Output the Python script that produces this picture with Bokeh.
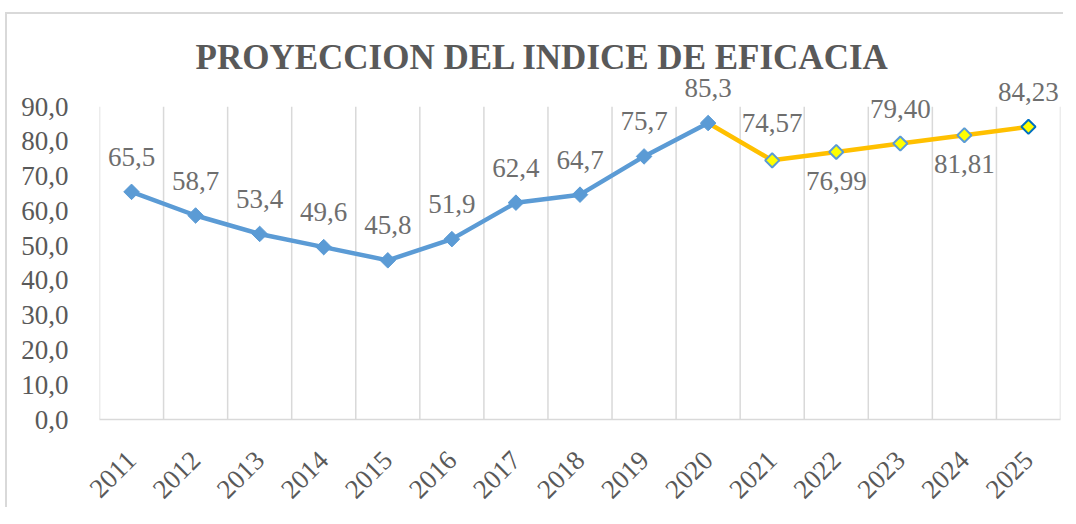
import numpy as np
from bokeh.plotting import figure
from bokeh.models import ColumnDataSource, FixedTicker, CustomJSTickFormatter, LabelSet
from bokeh.embed import file_html
from bokeh.resources import INLINE

# ---- data ----
hist_years = [2011, 2012, 2013, 2014, 2015, 2016, 2017, 2018, 2019, 2020]
hist_values = [65.5, 58.7, 53.4, 49.6, 45.8, 51.9, 62.4, 64.7, 75.7, 85.3]
proj_years = [2021, 2022, 2023, 2024, 2025]
proj_values = [74.57, 76.99, 79.40, 81.81, 84.23]
y_ticks = [0, 10, 20, 30, 40, 50, 60, 70, 80, 90]
title_text = "PROYECCION DEL INDICE DE EFICACIA"

all_years = hist_years + proj_years
FONT = "Liberation Serif"
GRID = "#D9D9D9"
AXIS_TXT = "#595959"
LBL_TXT = "#6E6E6E"
BLUE = "#5B9BD5"
ORANGE = "#FFC000"

# headroom above the top tick so data labels are not clipped
y_top = y_ticks[-1] + 11

p = figure(width=1058, height=495, output_backend="svg", toolbar_location=None,
           x_range=(all_years[0] - 0.5, all_years[-1] + 0.5), y_range=(y_ticks[0], y_top),
           min_border_left=92, min_border_right=5, min_border_top=54, min_border_bottom=88,
           background_fill_color="white", border_fill_color="white")
p.styles = {"border-left": "2px solid #D9D9D9", "border-top": "2px solid #D9D9D9",
            "margin-top": "12px", "margin-left": "5px"}
p.outline_line_color = None

p.title.text = title_text
p.title.align = "left"
p.title.offset = 96
p.title.text_font = FONT
p.title.text_font_size = "35px"
p.title.text_font_style = "bold"
p.title.text_color = AXIS_TXT
p.title.standoff = -16

# grids: vertical category boundaries spanning 0..top tick
p.xgrid.visible = False
p.ygrid.visible = False
bounds = [y - 0.5 for y in all_years] + [all_years[-1] + 0.5]
p.segment(x0=bounds, y0=[y_ticks[0]] * len(bounds), x1=bounds, y1=[y_ticks[-1]] * len(bounds),
          line_color=GRID, line_width=1.5)

# axes
xa = p.xaxis[0]
xa.ticker = FixedTicker(ticks=all_years)
xa.major_label_overrides = {y: str(y) for y in all_years}
xa.major_label_orientation = np.pi / 4
xa.major_label_text_font = FONT
xa.major_label_text_font_size = "27px"
xa.major_label_text_color = AXIS_TXT
xa.major_tick_line_color = None
xa.minor_tick_line_color = None
xa.axis_line_color = GRID
xa.axis_line_width = 1.5
xa.major_label_standoff = 30

ya = p.yaxis[0]
ya.ticker = FixedTicker(ticks=y_ticks)
ya.formatter = CustomJSTickFormatter(code="return tick.toFixed(1).replace('.', ',');")
ya.major_label_text_font = FONT
ya.major_label_text_font_size = "27px"
ya.major_label_text_color = AXIS_TXT
ya.major_tick_line_color = None
ya.minor_tick_line_color = None
ya.axis_line_color = None
ya.major_label_standoff = 25

# projection line (from last historical point)
p.line([hist_years[-1]] + proj_years, [hist_values[-1]] + proj_values,
       line_color=ORANGE, line_width=4.5)
# historical line
p.line(hist_years, hist_values, line_color=BLUE, line_width=4.5)
p.scatter(hist_years, hist_values, marker="square", angle=np.pi / 4, size=11,
          fill_color=BLUE, line_color=BLUE)
proj_edges = [BLUE] * (len(proj_years) - 1) + ["#0070C0"]
p.scatter(proj_years, proj_values, marker="square", angle=np.pi / 4, size=10,
          fill_color="#FFFF00", line_color=proj_edges, line_width=2)

# data labels
hist_src = ColumnDataSource(dict(x=hist_years, y=hist_values,
                                 t=[f"{v:.1f}".replace(".", ",") for v in hist_values],
                                 off=[35] * len(hist_years)))
proj_side = [37, -29, 35, -29, 35]
proj_src = ColumnDataSource(dict(x=proj_years, y=proj_values,
                                 t=[f"{v:.2f}".replace(".", ",") for v in proj_values],
                                 off=proj_side))
for src in (hist_src, proj_src):
    p.add_layout(LabelSet(x="x", y="y", text="t", source=src, y_offset="off",
                          text_font=FONT, text_font_size="27px", text_color=LBL_TXT,
                          text_align="center", text_baseline="middle"))

open("out.html", "w").write(file_html(p, INLINE))
